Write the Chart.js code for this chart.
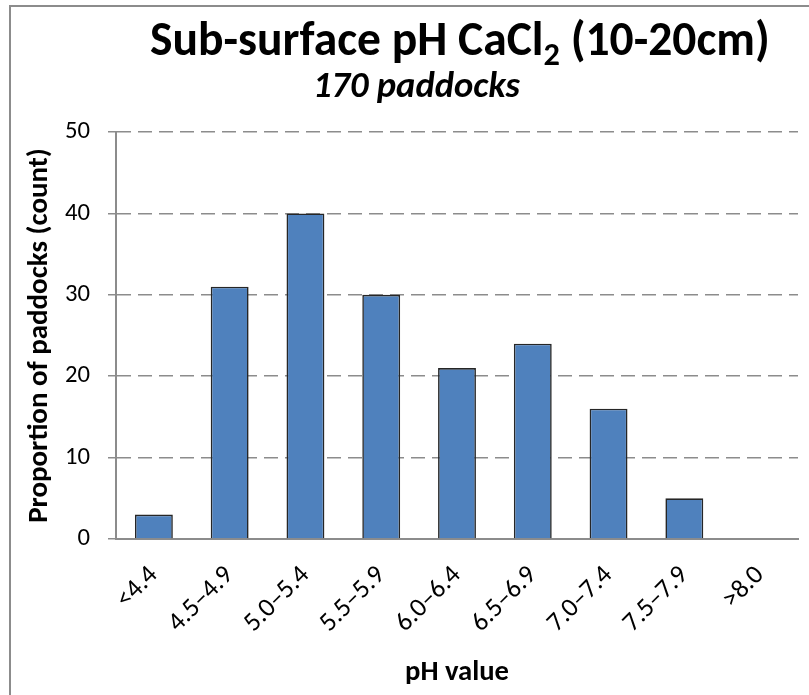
<!DOCTYPE html>
<html><head><meta charset="utf-8">
<script src="https://cdn.jsdelivr.net/npm/chart.js@4.4.1/dist/chart.umd.min.js"></script>
<style>html,body{margin:0;padding:0;background:#fff;overflow:hidden}#wrap{position:absolute;left:0;top:0;width:809px;height:695px}</style>
</head><body><div id="wrap"><canvas id="c" width="809" height="695"></canvas></div>
<script>
const categories = ['<4.4', '4.5–4.9', '5.0–5.4', '5.5–5.9', '6.0–6.4', '6.5–6.9', '7.0–7.4', '7.5–7.9', '>8.0'];
const counts = [3, 31, 40, 30, 21, 24, 16, 5, 0];
const yMin = 0, yMax = 50, yStep = 10;
const titleMain = 'Sub-surface pH CaCl';
const titleSub = '2';
const titleEnd = ' (10-20cm)';
const subtitleText = '170 paddocks';
const xTitle = 'pH value';
const yTitle = 'Proportion of paddocks (count)';

const FAM = 'Carlito, Lato, "Open Sans", sans-serif';
const mc = document.createElement('canvas').getContext('2d');
function w100(text, weight, style) { mc.font = `${style} ${weight} 100px ${FAM}`; return mc.measureText(text).width; }
function fit(text, weight, style, target) { return 100 * target / w100(text, weight, style); }

const SUBR = 0.68;
const titleSize = 100 * 620 / (w100(titleMain, 'bold', 'normal') + SUBR * w100(titleSub, 'bold', 'normal') + w100(titleEnd, 'bold', 'normal'));
const subSize = fit(subtitleText, 'bold', 'italic', 207);
const yTitleSize = fit(yTitle, 'bold', 'normal', 375);
const xTitleSize = fit(xTitle, 'bold', 'normal', 104);
const tickSize = fit('40', 'normal', 'normal', 25);
const xTickSize = fit('4.5–4.9', 'normal', 'normal', 80);

const GRID = '#8c8c8c';

const decor = {
  id: 'decor',
  beforeDraw(chart) {
    const ctx = chart.ctx;
    ctx.save();
    ctx.strokeStyle = GRID; ctx.lineWidth = 2;
    ctx.beginPath();
    ctx.moveTo(10, 700); ctx.lineTo(10, 6); ctx.lineTo(820, 6);
    ctx.stroke();
    ctx.restore();
  },
  afterDraw(chart) {
    const ctx = chart.ctx;
    ctx.save();
    ctx.fillStyle = '#000';
    ctx.textBaseline = 'alphabetic';
    ctx.textAlign = 'left';
    let x = 150; const base = 55;
    ctx.font = `bold ${titleSize}px ${FAM}`;
    ctx.fillText(titleMain, x, base); x += ctx.measureText(titleMain).width;
    ctx.font = `bold ${titleSize * SUBR}px ${FAM}`;
    ctx.fillText(titleSub, x, base + titleSize * 0.2); x += ctx.measureText(titleSub).width;
    ctx.font = `bold ${titleSize}px ${FAM}`;
    ctx.fillText(titleEnd, x, base);
    ctx.font = `italic bold ${subSize}px ${FAM}`;
    ctx.fillText(subtitleText, 313, 97);
    ctx.restore();
  }
};

new Chart(document.getElementById('c'), {
  type: 'bar',
  data: {
    labels: categories,
    datasets: [{
      data: counts,
      backgroundColor: '#4F81BD',
      borderColor: '#262626',
      borderWidth: 1.6,
      barPercentage: 0.5,
      categoryPercentage: 1.0
    }]
  },
  options: {
    responsive: false,
    devicePixelRatio: 1,
    animation: false,
    layout: { padding: { top: 132, left: 0, right: 11, bottom: 0 } },
    plugins: { legend: { display: false }, tooltip: { enabled: false }, title: { display: false } },
    scales: {
      x: {
        grid: { display: false, drawTicks: false },
        border: { display: true, color: GRID, width: 2 },
        ticks: {
          color: '#000', font: { family: FAM, size: xTickSize },
          minRotation: 45, maxRotation: 45, autoSkip: false, padding: 21
        },
        title: {
          display: true, text: xTitle, color: '#000',
          font: { family: FAM, size: xTitleSize, weight: 'bold' },
          padding: { top: 0, bottom: 22 - 0.6 * xTitleSize }
        },
        afterFit(s) { s.height = 156; }
      },
      y: {
        min: yMin, max: yMax,
        grid: { color: GRID, lineWidth: 1.5, tickColor: GRID, tickLength: 8, tickBorderDash: [] },
        border: { display: true, color: GRID, width: 2, dash: [14, 7] },
        ticks: { stepSize: yStep, color: '#000', font: { family: FAM, size: tickSize }, padding: 18 },
        title: {
          display: true, text: yTitle, color: '#000',
          font: { family: FAM, size: yTitleSize, weight: 'bold' },
          padding: { top: 40 - 0.6 * yTitleSize, bottom: 0 }
        },
        afterFit(s) { s.width = 116; }
      }
    }
  },
  plugins: [decor]
});
</script>
</body></html>
